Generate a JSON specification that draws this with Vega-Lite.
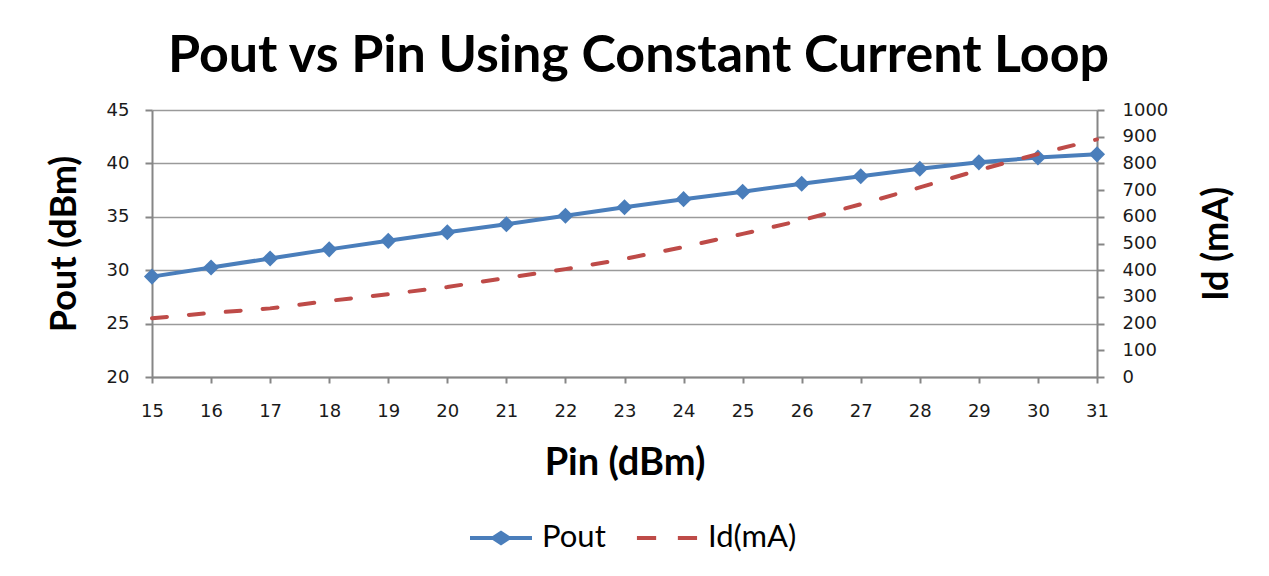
{
  "$schema": "https://vega.github.io/schema/vega-lite/v6.json",
  "width": 945,
  "height": 267,
  "autosize": {"type": "none"},
  "padding": {"left": 152, "top": 110, "right": 172, "bottom": 199},
  "background": "white",
  "title": {
    "text": "Pout vs Pin Using Constant Current Loop",
    "font": "Lato",
    "fontSize": 52,
    "fontWeight": "bold",
    "color": "black",
    "anchor": "middle",
    "frame": "group",
    "dx": 14,
    "offset": 18
  },
  "data": {
    "values": [
      {"Pin": 15, "series": "Pout", "value": 29.4},
      {"Pin": 16, "series": "Pout", "value": 30.25},
      {"Pin": 17, "series": "Pout", "value": 31.1},
      {"Pin": 18, "series": "Pout", "value": 31.95},
      {"Pin": 19, "series": "Pout", "value": 32.75},
      {"Pin": 20, "series": "Pout", "value": 33.55},
      {"Pin": 21, "series": "Pout", "value": 34.3},
      {"Pin": 22, "series": "Pout", "value": 35.1},
      {"Pin": 23, "series": "Pout", "value": 35.9},
      {"Pin": 24, "series": "Pout", "value": 36.65},
      {"Pin": 25, "series": "Pout", "value": 37.35},
      {"Pin": 26, "series": "Pout", "value": 38.1},
      {"Pin": 27, "series": "Pout", "value": 38.8},
      {"Pin": 28, "series": "Pout", "value": 39.5},
      {"Pin": 29, "series": "Pout", "value": 40.1},
      {"Pin": 30, "series": "Pout", "value": 40.55},
      {"Pin": 31, "series": "Pout", "value": 40.85},
      {"Pin": 15, "series": "Id(mA)", "value": 220},
      {"Pin": 16, "series": "Id(mA)", "value": 240},
      {"Pin": 17, "series": "Id(mA)", "value": 257},
      {"Pin": 18, "series": "Id(mA)", "value": 285},
      {"Pin": 19, "series": "Id(mA)", "value": 310},
      {"Pin": 20, "series": "Id(mA)", "value": 337},
      {"Pin": 21, "series": "Id(mA)", "value": 371},
      {"Pin": 22, "series": "Id(mA)", "value": 404},
      {"Pin": 23, "series": "Id(mA)", "value": 442},
      {"Pin": 24, "series": "Id(mA)", "value": 487},
      {"Pin": 25, "series": "Id(mA)", "value": 536},
      {"Pin": 26, "series": "Id(mA)", "value": 587},
      {"Pin": 27, "series": "Id(mA)", "value": 647},
      {"Pin": 28, "series": "Id(mA)", "value": 710},
      {"Pin": 29, "series": "Id(mA)", "value": 775},
      {"Pin": 30, "series": "Id(mA)", "value": 835},
      {"Pin": 31, "series": "Id(mA)", "value": 890}
    ]
  },
  "encoding": {
    "x": {
      "field": "Pin",
      "type": "quantitative",
      "scale": {"domain": [15, 31], "nice": false, "zero": false},
      "axis": {
        "title": "Pin (dBm)",
        "values": [15, 16, 17, 18, 19, 20, 21, 22, 23, 24, 25, 26, 27, 28, 29, 30, 31],
        "grid": false,
        "labelFlush": false,
        "labelFont": "DejaVu Sans",
        "labelFontSize": 18,
        "labelColor": "#1a1a1a",
        "labelPadding": 19,
        "tickSize": 6,
        "tickColor": "#868686",
        "domainColor": "#868686",
        "domainWidth": 2,
        "tickWidth": 2,
        "titleFont": "Lato",
        "titleFontSize": 38,
        "titleFontWeight": "bold",
        "titleColor": "black",
        "titlePadding": 24
      }
    },
    "color": {
      "field": "series",
      "type": "nominal",
      "scale": {"domain": ["Pout", "Id(mA)"], "range": ["#4A7EBB", "#BE4B48"]},
      "legend": {
        "orient": "none",
        "legendX": 318,
        "legendY": 397,
        "direction": "horizontal",
        "title": null,
        "labelFont": "Lato",
        "labelFontSize": 31,
        "labelColor": "black",
        "labelOffset": 10,
        "columnPadding": 30,
        "symbolSize": 3844,
        "symbolType": "square",
        "encode": {
          "symbols": {
            "update": {
              "shape": {"signal": "datum.value === 'Pout' ? 'M-1,-0.065 L-0.27,-0.065 L0,-0.24 L0.27,-0.065 L1,-0.065 L1,0.065 L0.27,0.065 L0,0.24 L-0.27,0.065 L-1,0.065 Z' : 'M-0.97,-0.065 L-0.35,-0.065 L-0.35,0.065 L-0.97,0.065 Z M0.35,-0.065 L0.97,-0.065 L0.97,0.065 L0.35,0.065 Z'"},
              "fill": {"scale": "color", "field": "value"},
              "fillOpacity": {"value": 1},
              "stroke": {"value": "transparent"},
              "strokeWidth": {"value": 0}
            }
          }
        }
      }
    }
  },
  "layer": [
    {
      "transform": [{"filter": "datum.series === 'Pout'"}],
      "mark": {
        "type": "line",
        "strokeWidth": 4,
        "point": {"shape": "diamond", "size": 260, "filled": true, "opacity": 1}
      },
      "encoding": {
        "y": {
          "field": "value",
          "type": "quantitative",
          "scale": {"domain": [20, 45], "nice": false, "zero": false},
          "axis": {
            "title": "Pout (dBm)",
            "orient": "left",
            "values": [20, 25, 30, 35, 40, 45],
            "grid": true,
            "gridColor": "#9a9a9a",
            "gridWidth": 1.5,
            "labelFont": "DejaVu Sans",
            "labelFontSize": 18,
            "labelColor": "#1a1a1a",
            "labelPadding": 16,
            "tickSize": 7,
            "tickColor": "#868686",
            "tickWidth": 2,
            "domainColor": "#868686",
            "domainWidth": 2,
            "titleFont": "Lato",
            "titleFontSize": 36,
            "titleFontWeight": "bold",
            "titleColor": "black",
            "titlePadding": 23
          }
        }
      }
    },
    {
      "transform": [{"filter": "datum.series === 'Id(mA)'"}],
      "mark": {"type": "line", "strokeWidth": 4, "strokeDash": [15, 22], "strokeCap": "round"},
      "encoding": {
        "y": {
          "field": "value",
          "type": "quantitative",
          "scale": {"domain": [0, 1000], "nice": false, "zero": true},
          "axis": {
            "title": "Id (mA)",
            "orient": "right",
            "format": "d",
            "values": [0, 100, 200, 300, 400, 500, 600, 700, 800, 900, 1000],
            "grid": false,
            "labelFont": "DejaVu Sans",
            "labelFontSize": 18,
            "labelColor": "#1a1a1a",
            "labelPadding": 18,
            "tickSize": 7,
            "tickColor": "#868686",
            "tickWidth": 2,
            "domainColor": "#868686",
            "domainWidth": 2,
            "titleFont": "Lato",
            "titleFontSize": 36,
            "titleFontWeight": "bold",
            "titleColor": "black",
            "titleAngle": 270,
            "titlePadding": 68
          }
        }
      }
    }
  ],
  "resolve": {"scale": {"y": "independent"}},
  "config": {"view": {"stroke": null}}
}
